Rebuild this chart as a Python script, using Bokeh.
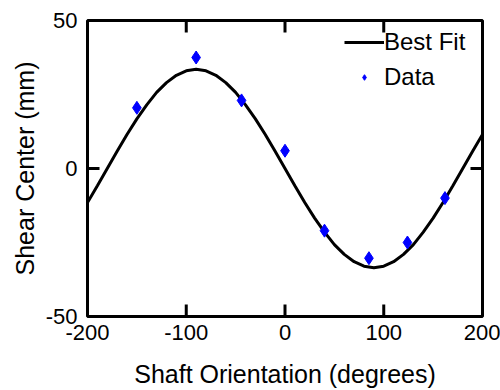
from bokeh.plotting import figure
from bokeh.models import FixedTicker, Range1d, Legend, LegendItem
from bokeh.embed import file_html
from bokeh.resources import INLINE

fit_x = [-200, -190, -180, -170, -160, -150, -140, -130, -120, -110, -100,
         -90, -80, -70, -60, -50, -40, -30, -20, -10, 0,
         10, 20, 30, 40, 50, 60, 70, 80, 90, 100,
         110, 120, 130, 140, 150, 160, 170, 180, 190, 200]
fit_y = [-11.5, -5.8, 0, 5.8, 11.5, 16.75, 21.5, 25.7, 29.0, 31.5, 33.0,
         33.5, 33.0, 31.5, 29.0, 25.7, 21.5, 16.75, 11.5, 5.8, 0,
         -5.8, -11.5, -16.75, -21.5, -25.7, -29.0, -31.5, -33.0, -33.5, -33.0,
         -31.5, -29.0, -25.7, -21.5, -16.75, -11.5, -5.8, 0, 5.8, 11.5]

# Measured data points
data_x = [-150, -90, -44, 0, 40, 85, 124, 162]
data_y = [20.5, 37.5, 23, 6, -21, -30.3, -25, -10]

x_ticks = [-200, -100, 0, 100, 200]
y_ticks = [-50, 0, 50]
x_min, x_max = -200, 200
y_min, y_max = -50, 50

FONT = "Liberation Sans"
W, H = 500, 390
BL, BR, BT, BB = 87, 18, 20, 72
TICK_PX = 12

p = figure(width=W, height=H, output_backend="svg", toolbar_location=None,
           x_range=Range1d(x_min, x_max), y_range=Range1d(y_min, y_max))
p.min_border_left = BL
p.min_border_right = BR
p.min_border_top = BT
p.min_border_bottom = BB
p.xgrid.visible = False
p.ygrid.visible = False
p.outline_line_color = "black"
p.outline_line_width = 3
p.background_fill_color = "white"
p.border_fill_color = "white"

# inward tick marks on all four sides, length given in pixels
dy = TICK_PX * (y_max - y_min) / (H - BT - BB)
dx = TICK_PX * (x_max - x_min) / (W - BL - BR)
nx, ny = len(x_ticks), len(y_ticks)
p.segment(x0=x_ticks, y0=[y_min] * nx, x1=x_ticks, y1=[y_min + dy] * nx, line_color="black", line_width=3)
p.segment(x0=x_ticks, y0=[y_max] * nx, x1=x_ticks, y1=[y_max - dy] * nx, line_color="black", line_width=3)
p.segment(x0=[x_min] * ny, y0=y_ticks, x1=[x_min + dx] * ny, y1=y_ticks, line_color="black", line_width=3)
p.segment(x0=[x_max] * ny, y0=y_ticks, x1=[x_max - dx] * ny, y1=y_ticks, line_color="black", line_width=3)

r_fit = p.line(fit_x, fit_y, line_color="black", line_width=3)
r_data = p.scatter(data_x, data_y, marker="diamond", size=13,
                   fill_color="#0000FF", line_color="#0000FF")

for ax in [p.xaxis[0], p.yaxis[0]]:
    ax.axis_line_color = None
    ax.major_tick_in = 0
    ax.major_tick_out = 0
    ax.minor_tick_in = 0
    ax.minor_tick_out = 0
    ax.major_label_text_font = FONT
    ax.major_label_text_font_size = "22px"
    ax.major_label_text_color = "black"
    ax.axis_label_text_font = FONT
    ax.axis_label_text_font_size = "25px"
    ax.axis_label_text_font_style = "normal"
    ax.axis_label_text_color = "black"

p.xaxis.ticker = FixedTicker(ticks=x_ticks)
p.yaxis.ticker = FixedTicker(ticks=y_ticks)
p.xaxis.major_label_overrides = {t: str(t) for t in x_ticks}
p.yaxis.major_label_overrides = {t: str(t) for t in y_ticks}
p.xaxis.axis_label = "Shaft Orientation (degrees)"
p.yaxis.axis_label = "Shear Center (mm)"
p.xaxis.major_label_standoff = 8
p.yaxis.major_label_standoff = 10
p.xaxis.axis_label_standoff = 17
p.yaxis.axis_label_standoff = 4

legend = Legend(items=[LegendItem(label="Best Fit", renderers=[r_fit]),
                       LegendItem(label="Data", renderers=[r_data])],
                location="top_right")
legend.border_line_color = None
legend.background_fill_alpha = 0
legend.label_text_font = FONT
legend.label_text_font_size = "24px"
legend.label_text_color = "black"
legend.glyph_width = 40
legend.glyph_height = 14
legend.label_height = 24
legend.label_width = 90
legend.label_standoff = 0
legend.spacing = 7
legend.margin = 8
legend.padding = 10
p.add_layout(legend)

open("out.html", "w").write(file_html(p, INLINE))
